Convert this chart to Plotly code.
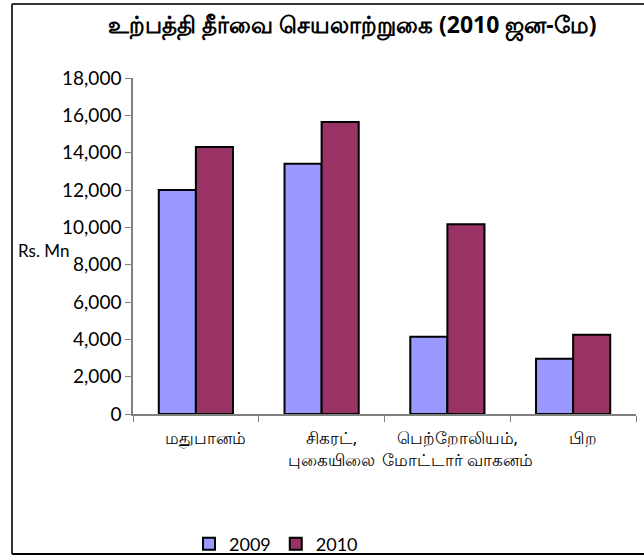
import plotly.graph_objects as go

categories = ["மதுபானம்", "சிகரட்,<br>புகையிலை", "பெற்றோலியம்,<br>மோட்டார் வாகனம்", "பிற"]
values_2009 = [12000, 13400, 4140, 2960]
values_2010 = [14300, 15640, 10160, 4250]
series_names = ["2009", "2010"]
title_text = "உற்பத்தி தீர்வை செயலாற்றுகை (2010 ஜன-மே)"
y_label = "Rs. Mn"

fig = go.Figure()
fig.add_trace(go.Bar(x=categories, y=values_2009, name=series_names[0],
                     marker=dict(color="#9999FF", line=dict(color="black", width=2))))
fig.add_trace(go.Bar(x=categories, y=values_2010, name=series_names[1],
                     marker=dict(color="#993366", line=dict(color="black", width=2))))

L, R, T, B = 133, 8, 78, 144
W, H = 644, 558
pw = W - L - R
ph = H - T - B

def px_x(p):
    return (p - L) / pw

def px_y(p):
    return (H - B - p) / ph

fig.update_layout(
    width=W, height=H,
    margin=dict(l=L, r=R, t=T, b=B, autoexpand=False),
    paper_bgcolor="white", plot_bgcolor="white",
    barmode="group", bargap=0.41, bargroupgap=0,
    font=dict(family="Lato, Noto Sans, sans-serif", color="black"),
    showlegend=True,
    legend=dict(orientation="h", x=px_x(276), xanchor="center", y=px_y(544), yanchor="middle",
                font=dict(size=18, family="Lato, sans-serif"), bgcolor="rgba(0,0,0,0)",
                itemwidth=30, traceorder="normal"),
    xaxis=dict(showline=True, linecolor="#808080", linewidth=1.5, ticks="outside", tickson="boundaries",
               ticklen=6, tickcolor="#808080", showgrid=False, tickangle=0, automargin=False,
               tickfont=dict(size=17, family="Noto Sans, sans-serif"), ticklabelstandoff=8,
               ticklabelshift=10),
    yaxis=dict(range=[0, 18000], dtick=2000, tickformat=",", showline=True, linecolor="#808080", linewidth=1.5,
               ticks="outside", ticklen=6, tickcolor="#808080", showgrid=False, zeroline=False, automargin=False,
               tickfont=dict(size=19, family="Lato, sans-serif")),
)

fig.add_annotation(text="<b>" + title_text + "</b>", xref="paper", yref="paper",
                   x=px_x(352), y=px_y(25), xanchor="center", yanchor="middle", showarrow=False,
                   font=dict(size=23, family="Noto Sans, sans-serif", color="black"))
fig.add_annotation(text=y_label, xref="paper", yref="paper", x=px_x(16), y=px_y(250),
                   xanchor="left", yanchor="middle", showarrow=False,
                   font=dict(size=17, family="Lato, sans-serif", color="black"))

border = "#333333"
fig.add_shape(type="line", xref="paper", yref="paper", x0=px_x(12), x1=px_x(650), y0=px_y(4), y1=px_y(4),
              line=dict(color=border, width=2))
fig.add_shape(type="line", xref="paper", yref="paper", x0=px_x(12), x1=px_x(12), y0=px_y(4), y1=px_y(554),
              line=dict(color=border, width=2))
fig.add_shape(type="line", xref="paper", yref="paper", x0=px_x(12), x1=px_x(650), y0=px_y(554), y1=px_y(554),
              line=dict(color="black", width=2))

fig.write_html("out.html", config={"displayModeBar": False},
               post_script="document.body.style.margin='0';")
